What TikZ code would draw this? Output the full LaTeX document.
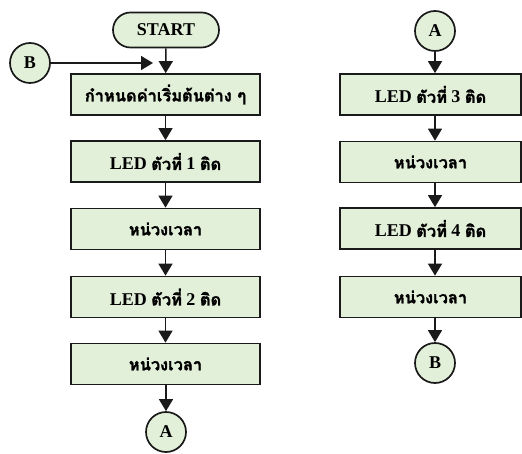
\documentclass[tikz,border=0pt]{standalone}
\usepackage{fontspec}
\setmainfont{Liberation Serif}
\newfontfamily\thaifont[Script=Thai, FakeBold=1.6]{Loma}
\usetikzlibrary{arrows.meta,shapes.misc}
\definecolor{boxfill}{HTML}{E2EFD9}
\definecolor{boxline}{HTML}{1A1A1A}
\newcommand{\thai}[1]{{\thaifont\fontsize{8.2}{10}\selectfont #1}}
\tikzset{
  procbox/.style={draw=boxline, fill=boxfill, line width=0.85pt,
    minimum height=20.5pt, inner sep=0pt, font=\bfseries\fontsize{9}{11}\selectfont},
  leftbox/.style={procbox, minimum width=94.5pt},
  rightbox/.style={procbox, minimum width=90.5pt},
  termbox/.style={draw=boxline, fill=boxfill, line width=0.85pt, rounded rectangle,
    minimum width=53pt, minimum height=17.5pt, inner sep=0pt,
    font=\bfseries\fontsize{9}{11}\selectfont},
  connector/.style={circle, draw=boxline, fill=boxfill, line width=0.85pt,
    minimum size=20pt, inner sep=0pt, font=\bfseries\fontsize{9}{11}\selectfont},
  flow/.style={draw=boxline, line width=0.75pt, -{Triangle[width=7pt,length=6pt]}}
}
\begin{document}
\begin{tikzpicture}[x=0.5pt, y=-0.5pt]
  \useasboundingbox (0,0) rectangle (522,453);

  % main sequence, first column
  \node[termbox] (start) at (166,30) {START};
  \node[leftbox] (init) at (165.5,94.5) {\thai{กำหนดค่าเริ่มต้นต่าง ๆ}};
  \node[leftbox] (led1) at (165.5,161.5) {LED \thai{ตัวที่} 1 \thai{ติด}};
  \node[leftbox] (wait1) at (165.5,229) {\thai{หน่วงเวลา}};
  \node[leftbox] (led2) at (165.5,297) {LED \thai{ตัวที่} 2 \thai{ติด}};
  \node[leftbox] (wait2) at (165.5,364) {\thai{หน่วงเวลา}};
  \node[connector] (outA) at (166,432) {A};
  \node[connector] (inB) at (30,63) {B};
  \coordinate (joinB) at (153,63);

  % continuation, second column
  \node[connector] (inA) at (435,31) {A};
  \node[rightbox] (led3) at (430.5,94.5) {LED \thai{ตัวที่} 3 \thai{ติด}};
  \node[rightbox] (wait3) at (430.5,162) {\thai{หน่วงเวลา}};
  \node[rightbox] (led4) at (430.5,228.5) {LED \thai{ตัวที่} 4 \thai{ติด}};
  \node[rightbox] (wait4) at (430.5,297) {\thai{หน่วงเวลา}};
  \node[connector] (outB) at (435,363) {B};

  % connectors
  \draw[flow] (start) -- (init);
  \draw[flow] (inB) -- (joinB);
  \draw[flow] (init) -- (led1);
  \draw[flow] (led1) -- (wait1);
  \draw[flow] (wait1) -- (led2);
  \draw[flow] (led2) -- (wait2);
  \draw[flow] (wait2.south -| outA) -- (outA);

  \draw[flow] (inA) -- (inA |- led3.north);
  \draw[flow] (inA |- led3.south) -- (inA |- wait3.north);
  \draw[flow] (inA |- wait3.south) -- (inA |- led4.north);
  \draw[flow] (inA |- led4.south) -- (inA |- wait4.north);
  \draw[flow] (inA |- wait4.south) -- (outB);
\end{tikzpicture}
\end{document}
